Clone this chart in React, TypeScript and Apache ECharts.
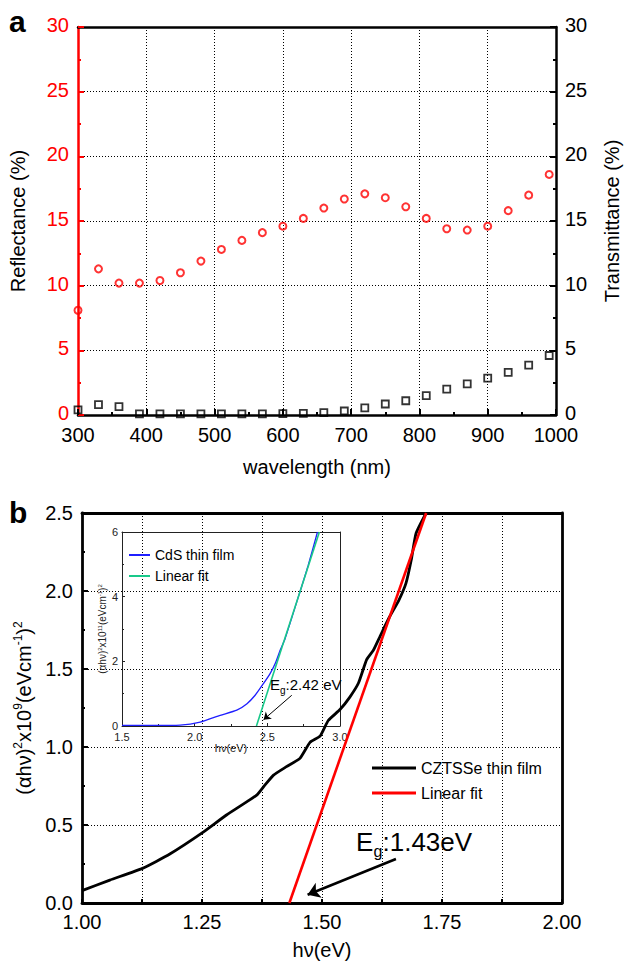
import React, { useEffect, useRef } from 'react';
import * as echarts from 'echarts';

// ---------- Panel a data ----------
const wavelength = [300, 330, 360, 390, 420, 450, 480, 510, 540, 570, 600, 630, 660, 690, 720, 750, 780, 810, 840, 870, 900, 930, 960, 990];
const reflectance = [8.1, 11.3, 10.2, 10.2, 10.4, 11.0, 11.9, 12.8, 13.5, 14.1, 14.6, 15.2, 16.0, 16.7, 17.1, 16.8, 16.1, 15.2, 14.4, 14.3, 14.6, 15.8, 17.0, 18.6];
const transmittance = [0.4, 0.8, 0.64, 0.08, 0.08, 0.08, 0.08, 0.08, 0.08, 0.08, 0.1, 0.13, 0.18, 0.31, 0.55, 0.85, 1.1, 1.5, 2.0, 2.4, 2.85, 3.3, 3.85, 4.6];

// ---------- Panel b data ----------
const cztsseHv = [1.0, 1.058, 1.126, 1.183, 1.251, 1.301, 1.364, 1.381, 1.399, 1.426, 1.454, 1.475, 1.496, 1.513, 1.5375, 1.558, 1.576, 1.593, 1.607, 1.621, 1.64, 1.66, 1.675, 1.686, 1.696, 1.717];
const cztsseVal = [0.079, 0.147, 0.222, 0.314, 0.451, 0.564, 0.692, 0.756, 0.82, 0.874, 0.927, 1.03, 1.07, 1.17, 1.24, 1.32, 1.41, 1.56, 1.62, 1.71, 1.83, 1.94, 2.05, 2.2, 2.37, 2.5];
const cztsseFitHv = [1.432, 1.717];
const cztsseFitVal = [0, 2.5];
const cztsseArrowFrom = [1.654, 0.282];
const cztsseArrowTo = [1.47, 0.053];

const cdsHv = [1.5, 1.7, 1.9, 2.038, 2.176, 2.29, 2.36, 2.416, 2.473, 2.519, 2.554, 2.588, 2.622, 2.714, 2.78, 2.845];
const cdsVal = [0.02, 0.02, 0.03, 0.12, 0.33, 0.49, 0.69, 0.95, 1.31, 1.62, 1.93, 2.34, 2.7, 4.0, 4.95, 6.0];
const cdsFitHv = [2.425, 2.858];
const cdsFitVal = [0, 6];
const cdsArrowFrom = [2.668, 0.95];
const cdsArrowTo = [2.474, 0.195];

const FONT = '"Liberation Sans", Arial, Helvetica, sans-serif';
const zip = (a: number[], b: number[]) => a.map((v, i) => [v, b[i]]);
const dotted = { type: [1, 2], color: '#000', width: 1 };

const boxAxis = (gridIndex: number, position: string, min: number, max: number, width: number, color = '#000') => ({
  gridIndex,
  type: 'value',
  position,
  min,
  max,
  axisLine: { show: true, onZero: false, lineStyle: { color, width } },
  axisTick: { show: false },
  axisLabel: { show: false },
  splitLine: { show: false },
});

export default function App() {
  const ref = useRef<HTMLDivElement>(null);
  useEffect(() => {
    document.body.style.margin = '0';
    const chart = echarts.init(ref.current!, null, { renderer: 'svg' });
    const option: any = {
      animation: false,
      textStyle: { fontFamily: FONT },
      grid: [
        { left: 77, top: 27, width: 480, height: 388 },
        { left: 82, top: 513, width: 480, height: 390 },
        { left: 122, top: 532, width: 218, height: 194 },
      ],
      xAxis: [
        {
          gridIndex: 0, type: 'value', min: 300, max: 1000, interval: 100, position: 'bottom',
          name: 'wavelength (nm)', nameLocation: 'middle', nameGap: 42,
          nameTextStyle: { fontSize: 20, color: '#000', fontFamily: FONT },
          axisLine: { onZero: false, lineStyle: { color: '#000', width: 2.5 } },
          axisTick: { inside: true, length: 6, lineStyle: { color: '#000', width: 2 } },
          minorTick: { show: true, splitNumber: 2, length: 3, lineStyle: { color: '#000', width: 2 } },
          axisLabel: { fontSize: 20, color: '#000', margin: 10, fontFamily: FONT, formatter: (v: number) => String(v) },
          splitLine: { show: true, lineStyle: dotted },
        },
        boxAxis(0, 'top', 300, 1000, 2.5),
        {
          gridIndex: 1, type: 'value', min: 1, max: 2, interval: 0.125, position: 'bottom',
          name: 'hν(eV)', nameLocation: 'middle', nameGap: 37,
          nameTextStyle: { fontSize: 20, color: '#000', fontFamily: FONT },
          axisLine: { onZero: false, lineStyle: { color: '#000', width: 2.8 } },
          axisTick: { inside: true, length: 4, lineStyle: { color: '#000', width: 2 } },
          axisLabel: {
            fontSize: 20, color: '#000', margin: 9, fontFamily: FONT,
            formatter: (v: number) => (Math.round(v * 8) % 2 === 0 ? v.toFixed(2) : ''),
          },
          splitLine: { show: true, lineStyle: dotted },
        },
        boxAxis(1, 'top', 1, 2, 2.8),
        {
          gridIndex: 2, type: 'value', min: 1.5, max: 3, interval: 0.5, position: 'bottom',
          name: 'hν(eV)', nameLocation: 'middle', nameGap: 16,
          nameTextStyle: { fontSize: 11, color: '#222', fontFamily: FONT },
          axisLine: { onZero: false, lineStyle: { color: '#222', width: 1 } },
          axisTick: { inside: true, length: 3, lineStyle: { color: '#222', width: 1 } },
          minorTick: { show: true, splitNumber: 2, length: 2, lineStyle: { color: '#222', width: 1 } },
          axisLabel: { fontSize: 11, color: '#222', margin: 5, fontFamily: FONT, formatter: (v: number) => v.toFixed(1) },
          splitLine: { show: false },
        },
        boxAxis(2, 'top', 1.5, 3, 1, '#222'),
      ],
      yAxis: [
        {
          gridIndex: 0, type: 'value', min: 0, max: 30, interval: 5, position: 'left',
          name: 'Reflectance (%)', nameLocation: 'middle', nameGap: 50,
          nameTextStyle: { fontSize: 20, color: '#000', fontFamily: FONT },
          axisLine: { onZero: false, lineStyle: { color: '#ff0000', width: 2.5 } },
          axisTick: { inside: true, length: 6, lineStyle: { color: '#ff0000', width: 2 } },
          minorTick: { show: true, splitNumber: 2, length: 3, lineStyle: { color: '#ff0000', width: 2 } },
          axisLabel: { fontSize: 20, color: '#ff0000', margin: 9, fontFamily: FONT, verticalAlign: 'bottom', lineHeight: 20, padding: [0, 0, -8, 0] },
          splitLine: { show: true, lineStyle: dotted },
        },
        {
          gridIndex: 0, type: 'value', min: 0, max: 30, interval: 5, position: 'right',
          name: 'Transmittance (%)', nameLocation: 'middle', nameGap: 46,
          nameTextStyle: { fontSize: 20, color: '#000', fontFamily: FONT },
          axisLine: { show: true, onZero: false, lineStyle: { color: '#000', width: 2.5 } },
          axisTick: { show: true, inside: true, length: 6, lineStyle: { color: '#000', width: 2 } },
          minorTick: { show: true, splitNumber: 2, length: 3, lineStyle: { color: '#000', width: 2 } },
          axisLabel: { fontSize: 20, color: '#000', margin: 9, fontFamily: FONT, verticalAlign: 'bottom', lineHeight: 20, padding: [0, 0, -8, 0] },
          splitLine: { show: false },
        },
        {
          gridIndex: 1, type: 'value', min: 0, max: 2.5, interval: 0.5, position: 'left',
          name: '{n|(αhν)}{s|2}{n|x10}{s|9}{n|(eVcm}{s|-1}{n|)}{s|2}',
          nameLocation: 'middle', nameGap: 46,
          nameTextStyle: {
            color: '#000', fontFamily: FONT,
            rich: {
              n: { fontSize: 20, lineHeight: 24, fontFamily: FONT, color: '#000' },
              s: { fontSize: 12, lineHeight: 12, verticalAlign: 'top', fontFamily: FONT, color: '#000' },
            },
          },
          axisLine: { onZero: false, lineStyle: { color: '#000', width: 2.8 } },
          axisTick: { inside: true, length: 6, lineStyle: { color: '#000', width: 2 } },
          minorTick: { show: true, splitNumber: 2, length: 3, lineStyle: { color: '#000', width: 2 } },
          axisLabel: { fontSize: 20, color: '#000', margin: 9, fontFamily: FONT, formatter: (v: number) => v.toFixed(1) },
          splitLine: { show: true, lineStyle: dotted },
        },
        boxAxis(1, 'right', 0, 2.5, 2.8),
        {
          gridIndex: 2, type: 'value', min: 0, max: 6, interval: 2, position: 'left',
          name: '{n|(αhν)}{s|2}{n|x10}{s|11}{n|(eVcm}{s|-1}{n|)}{s|2}',
          nameLocation: 'middle', nameGap: 13,
          nameTextStyle: {
            color: '#222', fontFamily: FONT,
            rich: {
              n: { fontSize: 10, lineHeight: 12, fontFamily: FONT, color: '#222' },
              s: { fontSize: 6, lineHeight: 6, verticalAlign: 'top', fontFamily: FONT, color: '#222' },
            },
          },
          axisLine: { onZero: false, lineStyle: { color: '#222', width: 1 } },
          axisTick: { inside: true, length: 3, lineStyle: { color: '#222', width: 1 } },
          minorTick: { show: true, splitNumber: 2, length: 2, lineStyle: { color: '#222', width: 1 } },
          axisLabel: { fontSize: 11, color: '#222', margin: 4, fontFamily: FONT },
          splitLine: { show: false },
        },
        boxAxis(2, 'right', 0, 6, 1, '#222'),
      ],
      legend: [
        {
          data: ['CZTSSe thin film', 'Linear fit'],
          orient: 'vertical', left: 372, top: 760, padding: 0,
          icon: 'rect', itemWidth: 44, itemHeight: 3, itemGap: 9, selectedMode: false,
          textStyle: { fontSize: 16, lineHeight: 16, color: '#000', fontFamily: FONT },
        },
        {
          data: ['CdS thin film', 'Linear fit (CdS)'],
          orient: 'vertical', left: 129, top: 548, padding: 0,
          icon: 'rect', itemWidth: 21, itemHeight: 2, itemGap: 7, selectedMode: false,
          formatter: (n: string) => (n === 'Linear fit (CdS)' ? 'Linear fit' : n),
          textStyle: { fontSize: 14, lineHeight: 14, color: '#000', fontFamily: FONT },
        },
      ],
      series: [
        {
          type: 'scatter', name: 'Reflectance', xAxisIndex: 0, yAxisIndex: 0,
          data: zip(wavelength, reflectance), symbol: 'circle', symbolSize: 7,
          itemStyle: { color: 'rgba(255,255,255,0)', borderColor: '#ff0000', borderWidth: 2 },
          z: 3,
        },
        {
          type: 'scatter', name: 'Transmittance', xAxisIndex: 0, yAxisIndex: 1,
          data: zip(wavelength, transmittance), symbol: 'rect', symbolSize: 7,
          itemStyle: { color: 'rgba(255,255,255,0)', borderColor: '#000', borderWidth: 1.8 },
          z: 3,
        },
        {
          type: 'line', name: 'CZTSSe thin film', xAxisIndex: 2, yAxisIndex: 2,
          data: zip(cztsseHv, cztsseVal), showSymbol: false, symbol: 'none', smooth: 0.15,
          lineStyle: { color: '#000', width: 2.8 }, itemStyle: { color: '#000' }, z: 4,
        },
        {
          type: 'line', name: 'Linear fit', xAxisIndex: 2, yAxisIndex: 2,
          data: zip(cztsseFitHv, cztsseFitVal), showSymbol: false, symbol: 'none',
          lineStyle: { color: '#ff0000', width: 2.6 }, itemStyle: { color: '#ff0000' }, z: 5,
          markLine: {
            silent: true, symbol: ['none', 'arrow'], symbolSize: 12,
            lineStyle: { color: '#000', width: 2.5, type: 'solid' },
            itemStyle: { color: '#000' },
            label: { show: false },
            data: [[{ coord: cztsseArrowFrom }, { coord: cztsseArrowTo }]],
          },
        },
        {
          type: 'line', name: 'CdS thin film', xAxisIndex: 4, yAxisIndex: 4,
          data: zip(cdsHv, cdsVal), showSymbol: false, symbol: 'none', smooth: 0.2,
          lineStyle: { color: '#1f1fff', width: 1.3 }, itemStyle: { color: '#1f1fff' }, z: 4,
        },
        {
          type: 'line', name: 'Linear fit (CdS)', xAxisIndex: 4, yAxisIndex: 4,
          data: zip(cdsFitHv, cdsFitVal), showSymbol: false, symbol: 'none',
          lineStyle: { color: '#19c98a', width: 1.6 }, itemStyle: { color: '#19c98a' }, z: 5,
          markLine: {
            silent: true, symbol: ['none', 'arrow'], symbolSize: 7,
            lineStyle: { color: '#000', width: 1, type: 'solid' },
            itemStyle: { color: '#000' },
            label: { show: false },
            data: [[{ coord: cdsArrowFrom }, { coord: cdsArrowTo }]],
          },
        },
      ],
      graphic: [
        { type: 'text', x: 9, y: 21, style: { text: 'a', fontSize: 30, fontWeight: 'bold', fontFamily: FONT, fill: '#000', verticalAlign: 'middle' } },
        { type: 'text', x: 9, y: 512, style: { text: 'b', fontSize: 30, fontWeight: 'bold', fontFamily: FONT, fill: '#000', verticalAlign: 'middle' } },
        { type: 'text', x: 356, y: 842, z: 10, style: { text: 'E', fontSize: 26, fontFamily: FONT, fill: '#000', verticalAlign: 'middle' } },
        { type: 'text', x: 373.5, y: 851.5, z: 10, style: { text: 'g', fontSize: 16, fontFamily: FONT, fill: '#000', verticalAlign: 'middle' } },
        { type: 'text', x: 382.5, y: 842, z: 10, style: { text: ':1.43eV', fontSize: 26, fontFamily: FONT, fill: '#000', verticalAlign: 'middle' } },
        { type: 'text', x: 270, y: 684.8, z: 10, style: { text: 'E', fontSize: 15, fontFamily: FONT, fill: '#000', verticalAlign: 'middle' } },
        { type: 'text', x: 280, y: 690.5, z: 10, style: { text: 'g', fontSize: 10, fontFamily: FONT, fill: '#000', verticalAlign: 'middle' } },
        { type: 'text', x: 285.6, y: 684.8, z: 10, style: { text: ':2.42 eV', fontSize: 15, fontFamily: FONT, fill: '#000', verticalAlign: 'middle' } },
      ],
    };
    chart.setOption(option);
    return () => chart.dispose();
  }, []);
  return <div ref={ref} style={{ width: 630, height: 963 }} />;
}
